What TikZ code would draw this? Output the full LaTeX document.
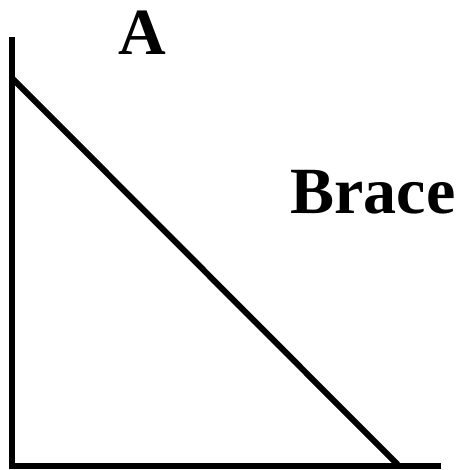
\documentclass[tikz,border=0pt]{standalone}
\usepackage{fontspec}
\setmainfont{Liberation Serif}
\begin{document}
\begin{tikzpicture}[x=1pt,y=-1pt,
  edge/.style={line width=6pt,black},
  lbl/.style={font=\fontsize{66}{70}\selectfont\bfseries,anchor=base,inner sep=0pt}]
\useasboundingbox (0,0) rectangle (464,470);
\coordinate (top) at (12,37);
\coordinate (corner) at (12,466);
\coordinate (right) at (441,466);
\coordinate (dtop) at (12,78);
\coordinate (dbot) at (399,466);
\draw[edge] (top) -- (corner);
\draw[edge] (9,466) -- (right);
\draw[edge] (dtop) -- (dbot);
\node[lbl] (a) at (142,55) {A};
\node[lbl] (brace) at (373,213) {Brace};
\end{tikzpicture}
\end{document}
